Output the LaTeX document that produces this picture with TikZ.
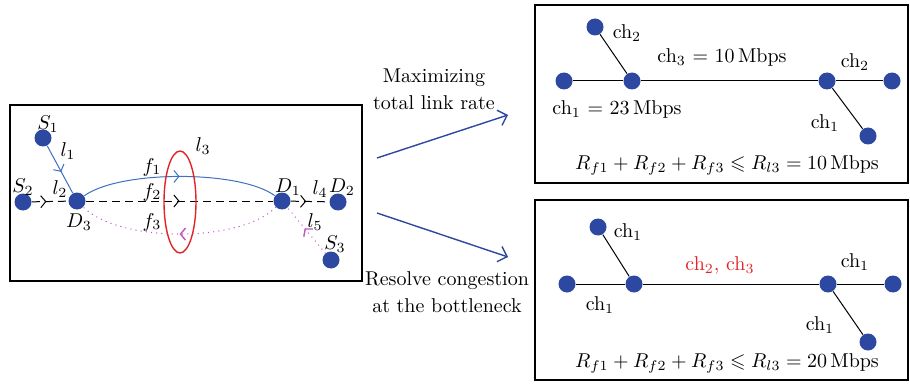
\documentclass[tikz,border=0pt]{standalone}
\usepackage{amssymb}
\usetikzlibrary{arrows.meta,decorations.markings}
\definecolor{dotblue}{RGB}{44,72,160}
\definecolor{flowblue}{RGB}{62,112,192}
\definecolor{flowpink}{RGB}{192,84,192}
\definecolor{bneckred}{RGB}{226,36,40}

\begin{document}
\begin{tikzpicture}[x=0.5pt, y=-0.5pt, line width=0.5pt,
  dot/.style={circle, fill=dotblue, inner sep=0pt, minimum size=8.5pt},
  lbl/.style={inner sep=1pt},
  pinkdots/.style={flowpink, line width=0.7pt, line cap=round, dash pattern=on 0pt off 2.6pt},
  midarr/.style={postaction={decorate}, decoration={markings,
    mark=at position #1 with {\arrow[solid]{Straight Barb[length=2.5pt,width=6pt]}}}}]
  \useasboundingbox (0,0) rectangle (910,385);

  % left: three flows through link l3
  \draw[line width=0.8pt] (10,105) rectangle (362,281);
  \node[dot] (s1) at (43,138) {};
  \node[dot] (s2) at (23,202) {};
  \node[dot] (d3) at (77,201) {};
  \node[dot] (d1) at (282,201) {};
  \node[dot] (d2) at (338,202) {};
  \node[dot] (s3) at (331,260) {};
  \draw[flowblue, midarr=0.55] (s1) -- (d3);
  \draw[flowblue, midarr=0.5] (d3) .. controls (120,170) and (240,170) .. (d1);
  \draw[dash pattern=on 4pt off 2.5pt, midarr=0.4] (s2) -- (d3);
  \draw[dash pattern=on 4pt off 2.5pt, midarr=0.5] (d3) -- (d1);
  \draw[dash pattern=on 4pt off 2.5pt, midarr=0.4] (d1) -- (d2);
  \draw[pinkdots, midarr=0.55] (s3) -- (d1);
  \draw[pinkdots, midarr=0.5] (d1) .. controls (240,243) and (120,243) .. (d3);
  \draw[bneckred, line width=0.7pt] (180,202) ellipse (8pt and 25.5pt);
  \node[lbl] (ls1) at (48,124) {$S_1$};
  \node[lbl] (ls2) at (23,187) {$S_2$};
  \node[lbl] (ls3) at (335,244) {$S_3$};
  \node[lbl] (ld1) at (288,187) {$D_1$};
  \node[lbl] (ld2) at (342,187) {$D_2$};
  \node[lbl] (ld3) at (79,222) {$D_3$};
  \node[lbl] (ll1) at (68,151) {$l_1$};
  \node[lbl] (ll2) at (60,189) {$l_2$};
  \node[lbl] (ll3) at (203,146) {$l_3$};
  \node[lbl] (ll4) at (320,189) {$l_4$};
  \node[lbl] (ll5) at (315,222) {$l_5$};
  \node[lbl] (lf1) at (152,167) {$f_1$};
  \node[lbl] (lf2) at (152,192) {$f_2$};
  \node[lbl] (lf3) at (152,222) {$f_3$};

  % the two outcomes
  \coordinate (up0) at (377,158);
  \coordinate (up1) at (508,115);
  \coordinate (dn0) at (377,213);
  \coordinate (dn1) at (508,257);
  \draw[dotblue, line width=0.7pt, -{Straight Barb[length=4pt,width=8pt]}] (up0) -- (up1);
  \draw[dotblue, line width=0.7pt, -{Straight Barb[length=4pt,width=8pt]}] (dn0) -- (dn1);
  \node[align=center] (tmax) at (434,89) {Maximizing\\[1.5pt]total link rate};
  \node[align=center] (tres) at (447,292) {Resolve congestion\\[1.5pt]at the bottleneck};

  % top right: maximizing
  \draw[line width=0.8pt] (535,5) rectangle (908,183);
  \node[dot] (a1) at (595,27) {};
  \node[dot] (a2) at (564,81) {};
  \node[dot] (a3) at (632,81) {};
  \node[dot] (a4) at (827,81) {};
  \node[dot] (a5) at (892,81) {};
  \node[dot] (a6) at (868,136) {};
  \draw (a1) -- (a3);
  \draw (a2) -- (a3) -- (a4) -- (a5);
  \draw (a4) -- (a6);
  \node[lbl] (ach1) at (627,33) {ch$_2$};
  \node[lbl] (ach2) at (722,58) {ch$_3$ = 10\,Mbps};
  \node[lbl] (ach3) at (855,62) {ch$_2$};
  \node[lbl] (ach4) at (617,110) {ch$_1$ = 23\,Mbps};
  \node[lbl] (ach5) at (825,123) {ch$_1$};
  \node[lbl] (aeq) at (727,165) {$R_{f1}+R_{f2}+R_{f3}\leqslant R_{l3}=10\,\mathrm{Mbps}$};

  % bottom right: resolve congestion
  \draw[line width=0.8pt] (535,200) rectangle (908,380);
  \node[dot] (b1) at (598,227) {};
  \node[dot] (b2) at (567,284) {};
  \node[dot] (b3) at (634,284) {};
  \node[dot] (b4) at (828,284) {};
  \node[dot] (b5) at (893,284) {};
  \node[dot] (b6) at (868,342) {};
  \draw (b1) -- (b3);
  \draw (b2) -- (b3) -- (b4) -- (b5);
  \draw (b4) -- (b6);
  \node[lbl] (bch1) at (628,232) {ch$_1$};
  \node[lbl, text=bneckred] (bch2) at (720,265) {ch$_2$, ch$_3$};
  \node[lbl] (bch3) at (855,262) {ch$_1$};
  \node[lbl] (bch4) at (600,305) {ch$_1$};
  \node[lbl] (bch5) at (820,325) {ch$_1$};
  \node[lbl] (beq) at (727,363) {$R_{f1}+R_{f2}+R_{f3}\leqslant R_{l3}=20\,\mathrm{Mbps}$};
\end{tikzpicture}
\end{document}
